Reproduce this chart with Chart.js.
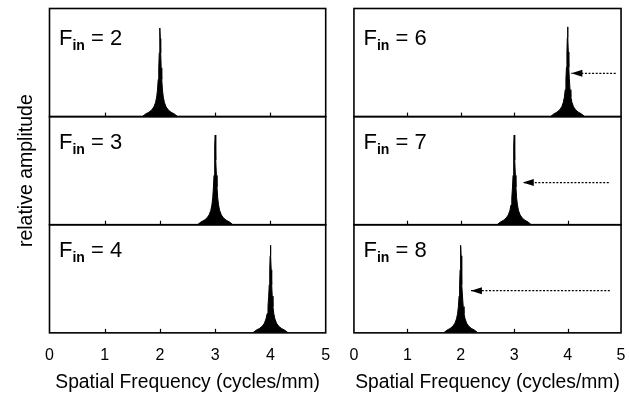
<!DOCTYPE html>
<html>
<head>
<meta charset="utf-8">
<script src="https://cdn.jsdelivr.net/npm/chart.js@4.4.0/dist/chart.umd.min.js"></script>
<style>
  html, body { margin: 0; padding: 0; background: #fff; overflow: hidden; }
  #wrap { position: relative; width: 629px; height: 401px; overflow: hidden; }
  canvas { position: absolute; top: 0; }
  #leftChart { left: 0; }
  #rightChart { left: 335px; }
</style>
</head>
<body>
<div id="wrap">
  <canvas id="leftChart" width="345" height="401"></canvas>
  <canvas id="rightChart" width="305" height="401"></canvas>
</div>
<script>
// input frequency written in each panel, top to bottom
const leftInputs = [2, 3, 4];
const rightInputs = [6, 7, 8];

// where the measured peak lands (cycles/mm)
const leftPeaks = [2, 3, 4];
const rightPeaks = [4, 3, 2];

// peak height, fraction of the panel
const leftHeights = [0.82, 0.83, 0.81];
const rightHeights = [0.83, 0.83, 0.81];

// shape of one peak: offset from centre (cycles/mm) and relative level
const peakOffsets = [-0.32, -0.26, -0.2, -0.15, -0.11, -0.08, -0.06, -0.045, -0.032, -0.022, -0.013, -0.006, 0,
                     0.006, 0.013, 0.022, 0.032, 0.045, 0.06, 0.08, 0.11, 0.15, 0.2, 0.26, 0.32];
const peakShape = [0, 0.03, 0.05, 0.075, 0.11, 0.16, 0.22, 0.3, 0.42, 0.55, 0.72, 0.88, 1,
                   0.88, 0.72, 0.55, 0.42, 0.3, 0.22, 0.16, 0.11, 0.075, 0.05, 0.03, 0];

// aliasing arrows, right column only
const arrowTails = [4.9, 4.77, 4.79];
const arrowTips = [4.07, 3.16, 2.19];
const arrowLevels = [0.40, 0.39, 0.39];

const xTicks = [0, 1, 2, 3, 4, 5];

const FONT = "'Liberation Sans', Arial, Helvetica, sans-serif";
// panel axes, top to bottom (chart.js stacks the first defined one at the bottom)
const panelAxes = ['top', 'mid', 'bot'];

// frames, inner ticks, arrow heads and F_in labels
const panelDecor = {
    id: 'panelDecor',
    beforeDatasetsDraw(chart) {
        const ctx = chart.ctx;
        const x = chart.scales.x;
        ctx.save();
        ctx.strokeStyle = '#000';
        ctx.lineWidth = 1.2;
        panelAxes.forEach(id => {
            const s = chart.scales[id];
            xTicks.slice(1, -1).forEach(v => {
                const px = Math.round(x.getPixelForValue(v)) + 0.5;
                ctx.beginPath();
                ctx.moveTo(px, s.bottom);
                ctx.lineTo(px, s.bottom - 4);
                ctx.stroke();
            });
        });
        ctx.restore();
    },
    afterDatasetsDraw(chart) {
        const ctx = chart.ctx;
        const area = chart.chartArea;
        ctx.save();

        // arrow heads
        ctx.fillStyle = '#000';
        chart.data.datasets.forEach((ds, i) => {
            if (!ds.arrow) return;
            const tip = chart.getDatasetMeta(i).data[1];
            ctx.beginPath();
            ctx.moveTo(tip.x, tip.y);
            ctx.lineTo(tip.x + 11, tip.y - 3.5);
            ctx.lineTo(tip.x + 11, tip.y + 3.5);
            ctx.closePath();
            ctx.fill();
        });

        // panel frames
        ctx.strokeStyle = '#000';
        ctx.lineWidth = 1.6;
        panelAxes.forEach(id => {
            const s = chart.scales[id];
            ctx.strokeRect(area.left, s.top, area.right - area.left, s.bottom - s.top);
        });

        // F_in labels
        const inputs = chart.options.plugins.panelDecor.inputs;
        ctx.textBaseline = 'alphabetic';
        ctx.textAlign = 'left';
        panelAxes.forEach((id, i) => {
            const s = chart.scales[id];
            let tx = area.left + 9.5;
            const base = s.top + (i === 0 ? 36 : 32);
            ctx.font = '22px ' + FONT;
            ctx.fillText('F', tx, base);
            tx += ctx.measureText('F').width;
            ctx.font = 'bold 14px ' + FONT;
            ctx.fillText('in', tx, base + 5);
            tx += ctx.measureText('in').width;
            ctx.font = '22px ' + FONT;
            ctx.fillText(' = ' + inputs[i], tx, base);
        });
        ctx.restore();
    }
};

function makeColumn(canvasId, inputs, peaks, heights, withArrows, showYTitle, padding) {
    const datasets = [];

    peaks.forEach((f, i) => {
        datasets.push({
            data: peakOffsets.map((d, k) => ({ x: f + d, y: heights[i] * peakShape[k] })),
            yAxisID: panelAxes[i],
            borderColor: '#000',
            backgroundColor: '#000',
            borderWidth: 1,
            fill: 'origin',
            pointRadius: 0,
            tension: 0
        });
    });

    if (withArrows) {
        arrowTips.forEach((tip, i) => {
            datasets.push({
                arrow: true,
                data: [{ x: arrowTails[i], y: arrowLevels[i] }, { x: tip, y: arrowLevels[i] }],
                yAxisID: panelAxes[i],
                borderColor: '#000',
                borderWidth: 1.3,
                borderDash: [2, 1.6],
                fill: false,
                pointRadius: 0
            });
        });
    }

    const yScale = (id) => ({
        type: 'linear',
        position: 'left',
        stack: 'panels',
        stackWeight: 1,
        min: 0,
        max: 1,
        offset: false,
        grid: { display: false, drawTicks: false },
        border: { display: false },
        ticks: { display: false },
        title: {
            display: showYTitle && id === 'mid',
            text: 'relative amplitude',
            color: '#000',
            font: { family: FONT, size: 19.5 },
            padding: { top: 14.6, bottom: 11.5 }
        }
    });

    return new Chart(document.getElementById(canvasId), {
        type: 'line',
        data: { datasets: datasets },
        options: {
            responsive: false,
            animation: false,
            events: [],
            layout: { padding: padding },
            scales: {
                x: {
                    type: 'linear',
                    min: 0,
                    max: 5,
                    afterBuildTicks: scale => { scale.ticks = xTicks.map(v => ({ value: v })); },
                    grid: { display: false, drawTicks: false },
                    border: { display: false },
                    ticks: {
                        color: '#000',
                        font: { family: FONT, size: 16, lineHeight: 1 },
                        padding: 14.5,
                        autoSkip: false,
                        maxRotation: 0
                    },
                    title: {
                        display: true,
                        text: 'Spatial Frequency (cycles/mm)',
                        color: '#000',
                        font: { family: FONT, size: 19.3, lineHeight: 0.5 },
                        padding: { top: 0, bottom: 13.5 }
                    }
                },
                bot: yScale('bot'),
                mid: yScale('mid'),
                top: yScale('top')
            },
            plugins: {
                legend: { display: false },
                tooltip: { enabled: false },
                panelDecor: { inputs: inputs }
            }
        },
        plugins: [panelDecor]
    });
}

makeColumn('leftChart', leftInputs, leftPeaks, leftHeights, false, true,
    { top: 8.5, left: 0, right: 19.3, bottom: 0 });
makeColumn('rightChart', rightInputs, rightPeaks, rightHeights, true, false,
    { top: 8.5, left: 17.7, right: 12, bottom: 0 });
</script>
</body>
</html>
